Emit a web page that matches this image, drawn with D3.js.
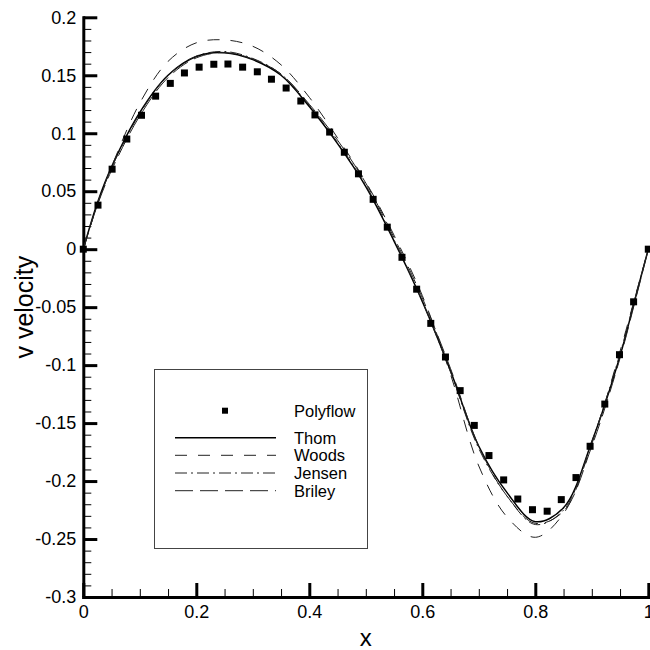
<!DOCTYPE html>
<html>
<head>
<meta charset="utf-8">
<script src="https://cdn.jsdelivr.net/npm/d3@7"></script>
<style>
  body { margin: 0; background: #fff; }
  text { font-family: "Liberation Sans", Arial, sans-serif; fill: #000; }
</style>
</head>
<body>
<div id="container"></div>
<script>
// v velocity along horizontal centreline - Polyflow vs reference solutions

const seriesNames = ["Polyflow", "Thom", "Woods", "Jensen", "Briley"]

const polyX = [0, 0.026, 0.051, 0.077, 0.103, 0.128, 0.154, 0.179, 0.205, 0.231,
    0.256, 0.282, 0.308, 0.333, 0.359, 0.385, 0.410, 0.436, 0.462, 0.487,
    0.513, 0.538, 0.564, 0.590, 0.615, 0.641, 0.667, 0.692, 0.718, 0.744,
    0.769, 0.795, 0.821, 0.846, 0.872, 0.897, 0.923, 0.949, 0.974, 1]
const polyV = [0, 0.038, 0.069, 0.095, 0.1155, 0.132, 0.143, 0.152, 0.157, 0.1595,
    0.1597, 0.157, 0.153, 0.1466, 0.139, 0.1278, 0.1158, 0.101, 0.0836, 0.065,
    0.043, 0.019, -0.007, -0.0345, -0.064, -0.093, -0.122, -0.152, -0.178, -0.199,
    -0.2155, -0.2247, -0.226, -0.216, -0.197, -0.170, -0.1336, -0.091, -0.0454, 0]

const refX = [0, 0.025, 0.05, 0.1, 0.15, 0.2, 0.25, 0.3, 0.35, 0.4, 0.45, 0.5,
    0.55, 0.6, 0.65, 0.7, 0.75, 0.8, 0.85, 0.9, 0.95, 0.975, 1]
const thomV = [0, 0.040, 0.071, 0.118, 0.150, 0.1662, 0.1695, 0.1635, 0.150, 0.123, 0.091, 0.054,
    0.007, -0.045, -0.105, -0.170, -0.210, -0.235, -0.223, -0.166, -0.092, -0.046, 0]
const woodsV = [0, 0.039, 0.071, 0.126, 0.162, 0.178, 0.1805, 0.175, 0.159, 0.131, 0.096, 0.058,
    0.012, -0.040, -0.108, -0.187, -0.231, -0.2485, -0.228, -0.168, -0.088, -0.044, 0]
const jensenV = [0, 0.039, 0.070, 0.117, 0.150, 0.1665, 0.1705, 0.1645, 0.151, 0.124, 0.092, 0.055,
    0.008, -0.045, -0.106, -0.172, -0.213, -0.2375, -0.225, -0.166, -0.090, -0.045, 0]
const brileyV = [0, 0.038, 0.068, 0.115, 0.148, 0.165, 0.1695, 0.164, 0.151, 0.125, 0.094, 0.057,
    0.010, -0.042, -0.103, -0.170, -0.213, -0.2365, -0.226, -0.170, -0.094, -0.048, 0]

const xTicks = [0, 0.2, 0.4, 0.6, 0.8, 1]
const xTickLabels = ["0", "0.2", "0.4", "0.6", "0.8", "1"]
const yTicks = [-0.3, -0.25, -0.2, -0.15, -0.1, -0.05, 0, 0.05, 0.1, 0.15, 0.2]
const yTickLabels = ["-0.3", "-0.25", "-0.2", "-0.15", "-0.1", "-0.05", "0", "0.05", "0.1", "0.15", "0.2"]

const width = 650,
    height = 650

const svg = d3.select("#container").append("svg")
    .attr("width", width)
    .attr("height", height)

const x = d3.scaleLinear().domain([0, 1]).range([83.3, 648.3])
const y = d3.scaleLinear().domain([-0.3, 0.2]).range([597, 17.3])

// minor ticks
const xMinor = d3.range(0, 1.0001, 0.05).filter(v => Math.abs(v * 5 - Math.round(v * 5)) > 1e-6)
const yMinor = d3.range(-0.3, 0.2001, 0.01).filter(v => Math.abs(v * 20 - Math.round(v * 20)) > 1e-6)

svg.append("g").attr("class", "minor")
    .attr("transform", `translate(0,${y(-0.3)})`)
    .call(d3.axisBottom(x).tickValues(xMinor).tickSize(-8).tickFormat(""))
svg.append("g").attr("class", "minor")
    .attr("transform", `translate(${x(0)},0)`)
    .call(d3.axisLeft(y).tickValues(yMinor).tickSize(-8).tickFormat(""))
svg.selectAll(".minor .domain").remove()
svg.selectAll(".minor line").attr("stroke", "#000").attr("stroke-width", 1)

svg.append("g").attr("class", "major")
    .attr("transform", `translate(0,${y(-0.3)})`)
    .call(d3.axisBottom(x).tickValues(xTicks).tickSizeInner(-14).tickSizeOuter(0).tickPadding(8)
        .tickFormat((d, i) => xTickLabels[i]))
svg.append("g").attr("class", "major")
    .attr("transform", `translate(${x(0)},0)`)
    .call(d3.axisLeft(y).tickValues(yTicks).tickSizeInner(-14).tickSizeOuter(0).tickPadding(7)
        .tickFormat((d, i) => yTickLabels[i]))

svg.selectAll(".major .domain").attr("stroke-width", 3).attr("stroke-linecap", "square")
svg.selectAll(".major line").attr("stroke-width", 3)
svg.selectAll(".major text")
    .style("font-size", "18px")
    .attr("font-family", null)

// axis titles
svg.append("text")
    .attr("x", (x(0) + x(1)) / 2)
    .attr("y", 646)
    .attr("text-anchor", "middle")
    .style("font-size", "24px")
    .text("x")

svg.append("text")
    .attr("transform", `translate(33,${(y(-0.3) + y(0.2)) / 2}) rotate(-90)`)
    .attr("text-anchor", "middle")
    .style("font-size", "25px")
    .text("v velocity")

// reference curves
const styles = {
    Thom: { dash: null, width: 1.5, color: "#000" },
    Woods: { dash: "12,11", width: 1, color: "#222" },
    Jensen: { dash: "12,4,2,4", width: 1, color: "#222" },
    Briley: { dash: "18,7", width: 1, color: "#222" },
}
const curves = [
    { name: "Thom", v: thomV },
    { name: "Woods", v: woodsV },
    { name: "Jensen", v: jensenV },
    { name: "Briley", v: brileyV },
]

const line = d3.line()
    .x(d => x(d[0]))
    .y(d => y(d[1]))
    .curve(d3.curveCatmullRom.alpha(0.5))

svg.append("g").attr("id", "curves")
    .selectAll("path")
    .data(curves)
    .enter()
    .append("path")
    .attr("d", d => line(refX.map((xv, i) => [xv, d.v[i]])))
    .attr("fill", "none")
    .attr("stroke", d => styles[d.name].color)
    .attr("stroke-width", d => styles[d.name].width)
    .attr("stroke-dasharray", d => styles[d.name].dash)

// Polyflow markers
svg.append("g").attr("id", "polyflow")
    .selectAll("rect")
    .data(polyX.map((xv, i) => [xv, polyV[i]]))
    .enter()
    .append("rect")
    .attr("x", d => x(d[0]) - 3.5)
    .attr("y", d => y(d[1]) - 3.5)
    .attr("width", 7)
    .attr("height", 7)
    .attr("fill", "#000")

// legend
const legend = svg.append("g").attr("id", "legend")
legend.append("rect")
    .attr("x", 154.5)
    .attr("y", 369.5)
    .attr("width", 213)
    .attr("height", 179)
    .attr("fill", "#fff")
    .attr("stroke", "#444")
    .attr("stroke-width", 1)

const rowY = [410.7, 437.7, 455.3, 473, 490.7]

const rows = legend.selectAll("g.row")
    .data(seriesNames)
    .enter()
    .append("g")
    .attr("class", "row")
    .attr("transform", (d, i) => `translate(0,${rowY[i]})`)

rows.filter(d => d === "Polyflow")
    .append("rect")
    .attr("x", 222)
    .attr("y", -3)
    .attr("width", 6)
    .attr("height", 6)
    .attr("fill", "#000")

rows.filter(d => d !== "Polyflow")
    .append("line")
    .attr("x1", 175)
    .attr("x2", 276)
    .attr("stroke", d => styles[d].color)
    .attr("stroke-width", d => styles[d].width)
    .attr("stroke-dasharray", d => styles[d].dash)

rows.append("text")
    .attr("x", 294)
    .attr("dy", "0.36em")
    .style("font-size", "16.5px")
    .text(d => d)
</script>
</body>
</html>
